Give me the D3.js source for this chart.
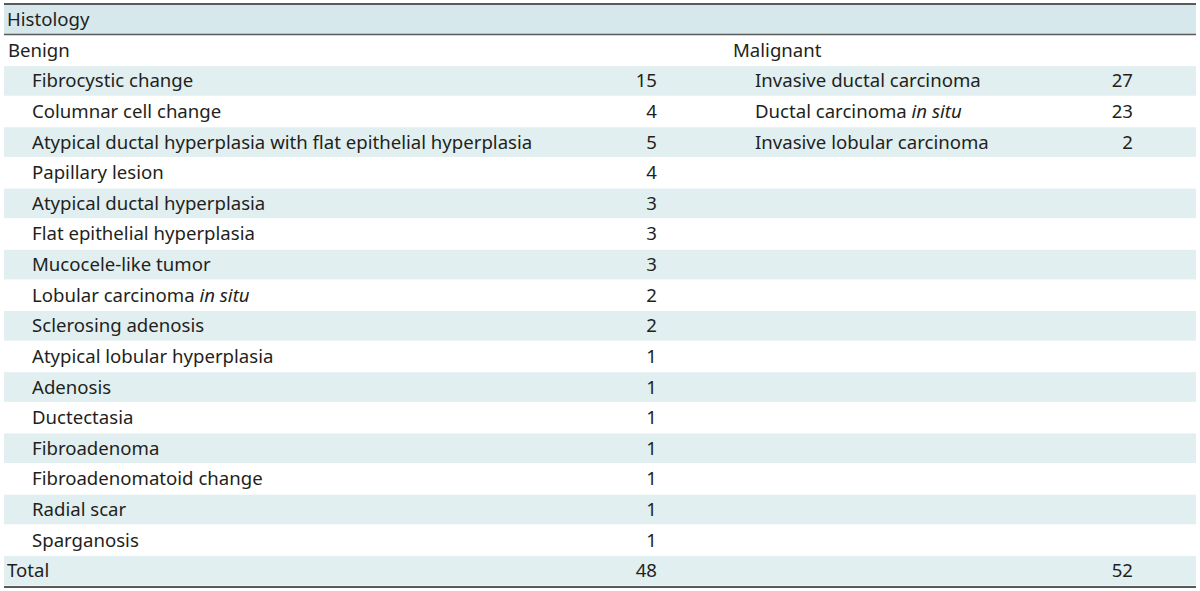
<!DOCTYPE html>
<meta charset="utf-8">
<style>
  body { margin: 0; background: #fff; }
  text { font-family: "Noto Sans", sans-serif; font-size: 18.6px; fill: #231f20; }
</style>
<svg width="1200" height="591"></svg>
<script src="https://cdn.jsdelivr.net/npm/d3@7"></script>
<script>
  var headerLabel = "Histology";
  var groupLabels = ["Benign", "Malignant"];
  var benignNames = ["Fibrocystic change", "Columnar cell change",
    "Atypical ductal hyperplasia with flat epithelial hyperplasia", "Papillary lesion",
    "Atypical ductal hyperplasia", "Flat epithelial hyperplasia", "Mucocele-like tumor",
    "Lobular carcinoma *in situ*", "Sclerosing adenosis", "Atypical lobular hyperplasia",
    "Adenosis", "Ductectasia", "Fibroadenoma", "Fibroadenomatoid change",
    "Radial scar", "Sparganosis"];
  var benignCounts = [15, 4, 5, 4, 3, 3, 3, 2, 2, 1, 1, 1, 1, 1, 1, 1];
  var malignantNames = ["Invasive ductal carcinoma", "Ductal carcinoma *in situ*",
    "Invasive lobular carcinoma"];
  var malignantCounts = [27, 23, 2];
  var totalLabel = "Total";
  var totals = [48, 52];

  var svg = d3.select("svg"),
      left = 4, right = 1196;

  // rows below the header: group row, the items, then total
  var rowKeys = d3.range(benignNames.length + 2);
  var y = d3.scaleBand().domain(rowKeys).range([35, 586]);
  var rh = y.bandwidth();

  // header band
  svg.append("rect").attr("x", left).attr("y", 5).attr("width", right - left).attr("height", 29)
      .attr("fill", "#d6e8ec");

  // zebra stripes on odd rows
  svg.selectAll("rect.stripe").data(rowKeys.filter(function(d) { return d % 2 === 1; }))
    .enter().append("rect").attr("class", "stripe")
      .attr("x", left).attr("y", function(d) { return y(d) + 0.5; })
      .attr("width", right - left).attr("height", rh - 1)
      .attr("fill", "#e1eff1");

  // rules
  [4, 34.5, 587].forEach(function(yy) {
    svg.append("line").attr("x1", left).attr("x2", right).attr("y1", yy).attr("y2", yy)
        .attr("stroke", "#5a5a5a").attr("stroke-width", yy === 34.5 ? 1.5 : 2);
  });

  function base(i) { return y(i) + rh / 2 + 6.5; }

  // label with *italic* parts
  function label(sel, str) {
    str.split("*").forEach(function(part, k) {
      if (!part) return;
      sel.append("tspan").text(part).style("font-style", k % 2 ? "italic" : null);
    });
  }

  svg.append("text").attr("x", 7).attr("y", 26).text(headerLabel);

  var cols = [
    {x0: 8, x1: 32, xv: 657, names: benignNames, counts: benignCounts, total: totals[0], label: groupLabels[0]},
    {x0: 733, x1: 755, xv: 1133, names: malignantNames, counts: malignantCounts, total: totals[1], label: groupLabels[1]}
  ];

  cols.forEach(function(c) {
    svg.append("text").attr("x", c.x0).attr("y", base(0)).text(c.label);
    c.names.forEach(function(n, i) {
      label(svg.append("text").attr("x", c.x1).attr("y", base(i + 1)), n);
      svg.append("text").attr("x", c.xv).attr("y", base(i + 1))
          .attr("text-anchor", "end").text(c.counts[i]);
    });
    svg.append("text").attr("x", c.xv).attr("y", base(rowKeys.length - 1))
        .attr("text-anchor", "end").text(c.total);
  });

  svg.append("text").attr("x", 7).attr("y", base(rowKeys.length - 1)).text(totalLabel);
</script>
